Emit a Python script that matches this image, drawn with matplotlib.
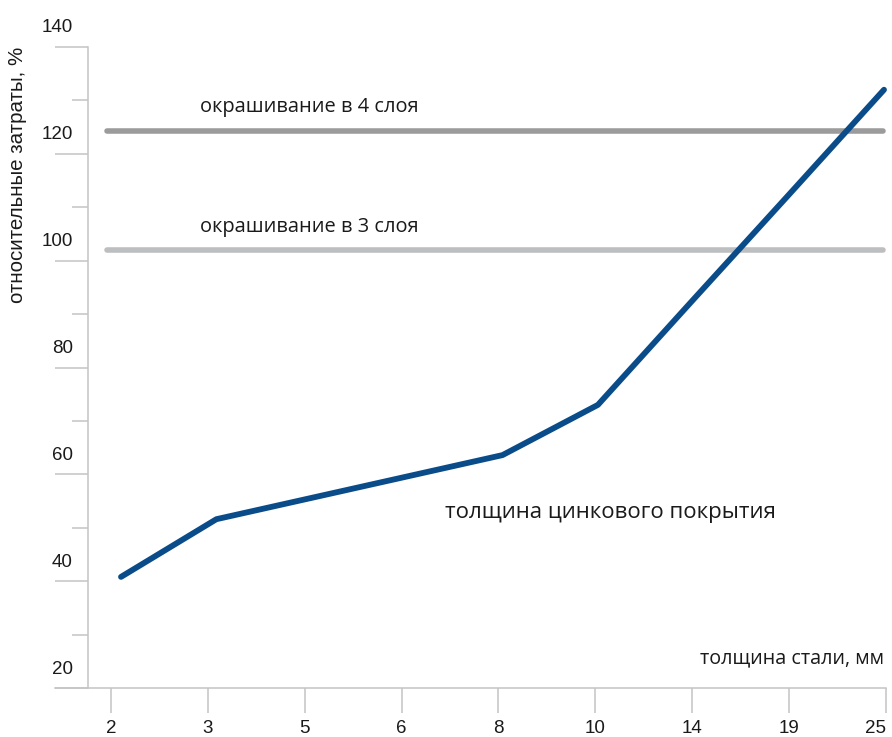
import numpy as np
import matplotlib
matplotlib.use('Agg')
import matplotlib.pyplot as plt
from matplotlib.transforms import ScaledTranslation

# Data
thickness = ['2', '3', '5', '6', '8', '10', '14', '19', '25']
zinc_cost = [40.8, 51.6, 55.6, 59.6, 63.6, 73.0, 92.7, 112.3, 132.0]
paint_4_layers = 124.2
paint_3_layers = 102.0
y_major = [20, 40, 60, 80, 100, 120, 140]
y_minor = [30, 50, 70, 90, 110, 130]

axis_grey = '#c4c4c4'
blue = '#0a4c89'

fig = plt.figure(figsize=(8.92, 7.37), dpi=100)
ax = fig.add_axes([55 / 892, 49 / 737, 831 / 892, 641 / 737])

x = np.arange(len(thickness))
ax.set_xlim(-0.692, 8.021)
ax.set_ylim(20, 140)

# paint reference lines
ax.axhline(paint_4_layers, xmin=0.062, xmax=0.996, color='#9b9b9b', lw=4,
           solid_capstyle='round')
ax.axhline(paint_3_layers, xmin=0.062, xmax=0.996, color='#bdbec0', lw=4,
           solid_capstyle='round')

# zinc coating curve
ax.plot(x, zinc_cost, color=blue, lw=4.2, solid_capstyle='round',
        solid_joinstyle='round', clip_on=False)

# spines
for s in ['top', 'right']:
    ax.spines[s].set_visible(False)
ax.spines['left'].set_position(('axes', 33 / 831))
ax.spines['left'].set_color(axis_grey)
ax.spines['bottom'].set_color(axis_grey)
ax.spines['left'].set_linewidth(1.1)
ax.spines['bottom'].set_linewidth(1.1)

# y ticks: long major, short minor, labels lifted above the tick
ax.set_yticks(y_major)
ax.set_yticks(y_minor, minor=True)
ax.tick_params(axis='y', which='major', length=23.8, width=1.1, color=axis_grey,
               pad=-13, labelsize=13.5, labelcolor='#1a1a1a')
ax.tick_params(axis='y', which='minor', length=11.5, width=1.1, color=axis_grey)
for lab in ax.get_yticklabels():
    lab.set_fontfamily('Liberation Sans')
    lab.set_transform(lab.get_transform() + ScaledTranslation(0, 0.21, fig.dpi_scale_trans))

# x ticks
tick_pos = np.linspace(-0.1049, -0.1049 + 8 * 1.01573, len(thickness))
ax.set_xticks(tick_pos)
ax.set_xticklabels(thickness, fontfamily='Liberation Sans')
ax.tick_params(axis='x', length=18, width=1.1, color=axis_grey, pad=5,
               labelsize=13.5, labelcolor='#1a1a1a')
ax.get_xticklabels()[-1].set_horizontalalignment('right')

# texts
ax.text(0.828, 128.8, 'окрашивание в 4 слоя', family='Open Sans', fontsize=14.4,
        va='center', ha='left', color='#1a1a1a')
ax.text(0.828, 106.3, 'окрашивание в 3 слоя', family='Open Sans', fontsize=14.4,
        va='center', ha='left', color='#1a1a1a')
ax.text(3.397, 52.9, 'толщина цинкового покрытия', family='Open Sans', fontsize=16,
        va='center', ha='left', color='#1a1a1a')
ax.text(8.0, 25.6, 'толщина стали, мм', family='Open Sans', fontsize=14.2,
        va='center', ha='right', color='#1a1a1a')

fig.text(18 / 892, 1 - 175 / 737, 'относительные затраты, %', rotation=90,
         family='Liberation Sans', fontsize=14.8, va='center', ha='center',
         color='#1a1a1a')

fig.savefig('out.png', dpi=100)
